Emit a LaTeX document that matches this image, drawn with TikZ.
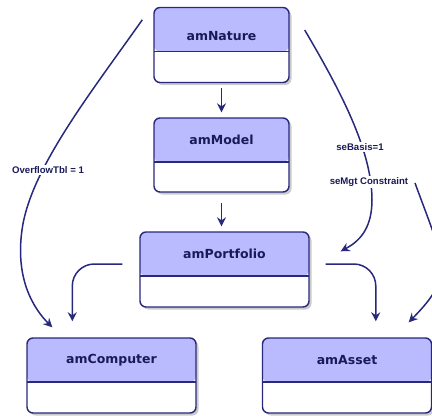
\documentclass[tikz,border=0pt]{standalone}
\usepackage{fontspec}
\setmainfont{DejaVu Sans}
\newfontfamily\lblfont{Liberation Sans}
\usetikzlibrary{arrows.meta,calc,shadows}
\definecolor{navy}{RGB}{40,40,125}
\definecolor{hdr}{RGB}{186,186,255}
\definecolor{txt}{RGB}{26,26,88}
\begin{document}
\begin{tikzpicture}[x=1pt,y=-1pt,
  cls/.style={draw=navy, line width=1.4pt, rounded corners=6pt, fill=white,
    inner sep=0pt, minimum height=75pt,
    drop shadow={shadow xshift=2.5pt, shadow yshift=-2.5pt, fill=black!45, opacity=.45},
    path picture={
      \fill[hdr] (path picture bounding box.north west) rectangle
        ([yshift=-44pt]path picture bounding box.north east);
      \draw[navy, line width=1.4pt] ([yshift=-44pt]path picture bounding box.north west) --
        ([yshift=-44pt]path picture bounding box.north east);}},
  hdrtxt/.style={font=\fontsize{12.5}{14}\selectfont\bfseries, text=txt, inner sep=0pt},
  conn/.style={draw=navy, line width=1.5pt, -{Stealth[length=9pt,width=9pt,inset=3pt]}},
  lbl/.style={font=\lblfont\fontsize{9.6}{11}\selectfont\bfseries, text=txt, fill=white, inner sep=1.5pt}]
\useasboundingbox (0,0) rectangle (432,416);

% boxes
\node[cls, minimum width=135pt] (nature) at (221.5,45) {};
\node[cls, minimum width=135pt, minimum height=74pt] (model) at (221.5,155) {};
\node[cls, minimum width=169pt] (portfolio) at (224.5,269.5) {};
\node[cls, minimum width=169pt] (computer) at (111.5,375.5) {};
\node[cls, minimum width=169pt] (asset) at (347,375.5) {};

\node[hdrtxt] (natureT) at ($(nature.north)+(0,29)$) {amNature};
\node[hdrtxt] (modelT) at ($(model.north)+(0,23)$) {amModel};
\node[hdrtxt] (portfolioT) at ($(portfolio.north)+(0,23)$) {amPortfolio};
\node[hdrtxt] (computerT) at ($(computer.north)+(0,23)$) {amComputer};
\node[hdrtxt] (assetT) at ($(asset.north)+(0,23)$) {amAsset};

% straight arrows
\draw[conn, shorten <=5pt, shorten >=5pt] (nature.south) -- (model.north);
\draw[conn, shorten <=10pt, shorten >=5pt] (model.south) -- (model.south |- portfolio.north);

% portfolio to computer / asset
\draw[conn, rounded corners=22pt] ($(portfolio.west)+(-17,-5.5)$) -| ($(computer.north west)+(46,-16)$);
\draw[conn, rounded corners=22pt] ($(portfolio.east)+(16,-5.5)$) -| ($(asset.north west)+(114,-16)$);

% long curves
\coordinate (ovS) at ($(nature.north west)+(-11,13)$);
\coordinate (ovM) at (22,230);
\coordinate (ovE) at ($(computer.north west)+(26,-10)$);
\draw[conn] (ovS) .. controls +(-53,75) and +(8,-60) .. (ovM)
  .. controls +(-7,50) and +(-18,-18) .. (ovE);

\coordinate (aS) at ($(nature.east)+(15,-15)$);
\coordinate (aM) at (372,200);
\coordinate (aE) at ($(portfolio.north east)+(31,20)$);
\draw[conn] (aS) .. controls (340,90) and (372,150) .. (aM)
  .. controls (372,230) and (358,242) .. (aE);

\coordinate (bS) at (415,183);
\coordinate (bE) at ($(asset.north east)+(-23.5,-15)$);
\draw[conn] (bS) .. controls (445,265) and (455,275) .. (bE);

% labels
\node[lbl] (ovL) at (48,170) {OverflowTbl = 1};
\node[lbl] (basisL) at (360,147) {seBasis=1};
\node[lbl] (mgtL) at (369,182) {seMgt Constraint};
\end{tikzpicture}
\end{document}
